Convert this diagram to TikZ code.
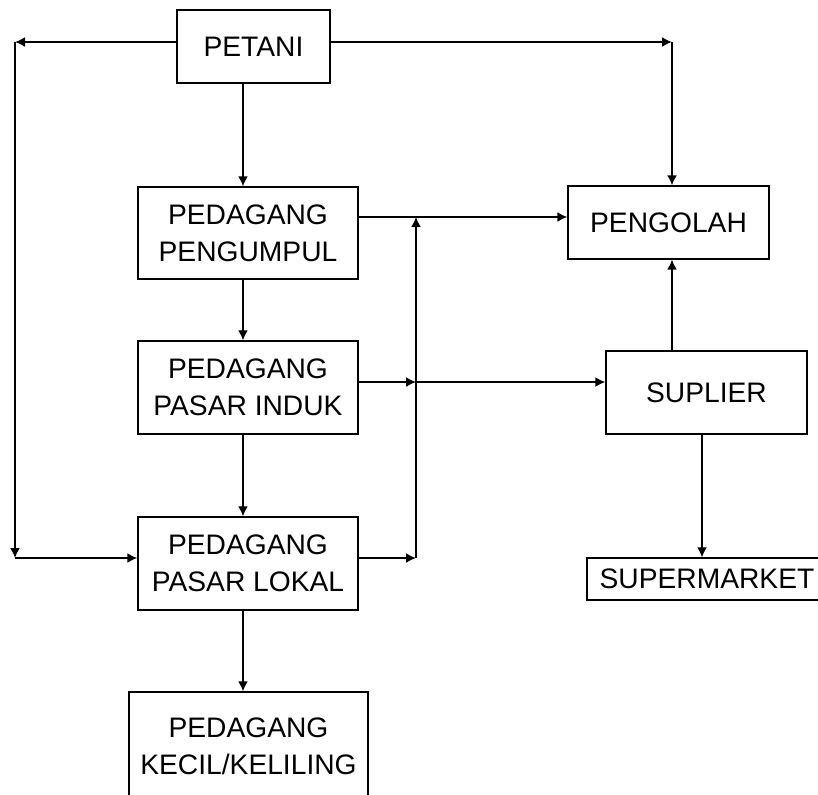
\documentclass[tikz,border=0pt]{standalone}
\usepackage{fontspec}
\setmainfont{Liberation Sans}
\usetikzlibrary{arrows.meta}
\tikzset{kotak/.style={draw, line width=0.7pt, inner sep=0pt, align=center,
    font=\fontsize{14.1pt}{18.5pt}\selectfont}}
\tikzset{panah/.style={-{Latex[length=5pt,width=5pt]}, line width=0.8pt}}

\begin{document}
\begin{tikzpicture}[x=0.5pt, y=-0.5pt]
    \useasboundingbox (0,0) rectangle (818,794);
    \node[kotak, minimum width=76.5pt, minimum height=36.5pt] (petani) at (253.5,46.5) {PETANI};
    \node[kotak, minimum width=110pt, minimum height=46pt] (pengumpul) at (248,233) {PEDAGANG\\PENGUMPUL};
    \node[kotak, minimum width=110pt, minimum height=46.5pt] (induk) at (248,387.5) {PEDAGANG\\PASAR INDUK};
    \node[kotak, minimum width=110pt, minimum height=46.5pt] (lokal) at (248,563.5) {PEDAGANG\\PASAR LOKAL};
    \node[kotak, minimum width=119.5pt, minimum height=54pt] (kecil) at (248.5,746) {PEDAGANG\\KECIL/KELILING};
    \node[kotak, minimum width=100.5pt, minimum height=36.5pt] (pengolah) at (668.5,222.5) {PENGOLAH};
    \node[kotak, minimum width=100.5pt, minimum height=41.5pt] (suplier) at (706.5,392.5) {SUPLIER};
    \node[kotak, minimum width=120pt, minimum height=21pt] (supermarket) at (707,579) {SUPERMARKET};
    \coordinate (kiri) at (15,42);
    \coordinate (kiribawah) at (15,558);
    \coordinate (kanan) at (672,42);
    \coordinate (tengah) at (243,0);
    \coordinate (simpulatas) at (416,217);
    \coordinate (simpultengah) at (416,382);
    \coordinate (simpul) at (416,558);
    \coordinate (bawah) at (702,0);
    \draw[panah] (petani.west |- kiri) -- (kiri);
    \draw[panah] (kiri) -- (kiribawah);
    \draw[panah] (kiribawah) -- (kiribawah -| lokal.west);
    \draw[panah] (petani.east |- kanan) -- (kanan);
    \draw[panah] (kanan) -- (kanan |- pengolah.north);
    \draw[panah] (tengah |- petani.south) -- (tengah |- pengumpul.north);
    \draw[panah] (tengah |- pengumpul.south) -- (tengah |- induk.north);
    \draw[panah] (tengah |- induk.south) -- (tengah |- lokal.north);
    \draw[panah] (tengah |- lokal.south) -- (tengah |- kecil.north);
    \draw[panah] (pengumpul.east |- simpulatas) -- (pengolah.west |- simpulatas);
    \draw[panah] (induk.east |- simpultengah) -- (simpultengah);
    \draw[panah] (simpultengah) -- (suplier.west |- simpultengah);
    \draw[panah] (lokal.east |- simpul) -- (simpul);
    \draw[panah] (simpul) -- (simpulatas);
    \draw[panah] (kanan |- suplier.north) -- (kanan |- pengolah.south);
    \draw[panah] (bawah |- suplier.south) -- (bawah |- supermarket.north);
\end{tikzpicture}
\end{document}
